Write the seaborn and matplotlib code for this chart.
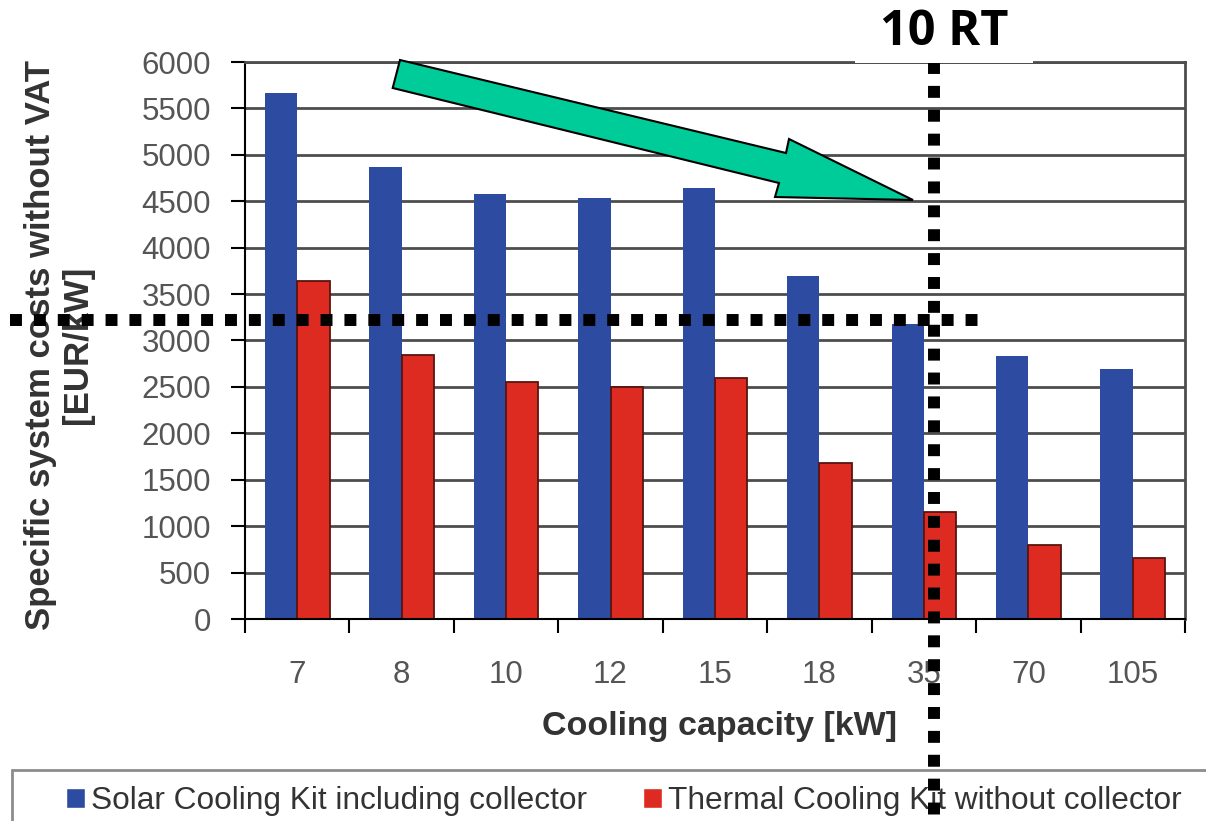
import numpy as np
import pandas as pd
import seaborn as sns
import matplotlib.pyplot as plt
from matplotlib.patches import Polygon, Rectangle

# Cooling capacity classes and specific system costs (EUR/kW, without VAT)
capacity_kw = ["7", "8", "10", "12", "15", "18", "35", "70", "105"]
solar_kit_cost = [5670, 4870, 4580, 4540, 4640, 3700, 3180, 2830, 2690]
thermal_kit_cost = [3640, 2840, 2550, 2500, 2600, 1680, 1150, 800, 660]
series_names = ["Solar Cooling Kit including collector",
                "Thermal Cooling Kit without collector"]
y_ticks = list(range(0, 6001, 500))

# Reference markers: 10 RT (~35 kW) and its cost level
reference_label = "10 RT"
reference_cost = 3220
reference_position = 6.1

W, H = 1206, 821
BLUE = "#2D4BA0"
RED = "#DD2B22"
GRID = "#4d4d4d"

sns.set_theme(style="ticks")
plt.rcParams["font.family"] = ["Liberation Sans", "DejaVu Sans"]

df = pd.DataFrame({
    "capacity": capacity_kw * 2,
    "cost": solar_kit_cost + thermal_kit_cost,
    "series": [series_names[0]] * len(capacity_kw) + [series_names[1]] * len(capacity_kw),
})

fig = plt.figure(figsize=(W / 100, H / 100), dpi=100)
ax = fig.add_axes([245 / W, 1 - 619 / H, 940 / W, 557 / H])

sns.barplot(data=df, x="capacity", y="cost", hue="series", order=capacity_kw,
            hue_order=series_names, palette=[BLUE, RED], width=0.62,
            saturation=1, ax=ax)
handles, labels = ax.get_legend_handles_labels()
ax.get_legend().remove()

for bar in ax.containers[0]:
    bar.set_edgecolor(BLUE)
    bar.set_linewidth(0)
for bar in ax.containers[1]:
    bar.set_edgecolor("#5a140f")
    bar.set_linewidth(1.3)

ax.set_xlim(-0.5, len(capacity_kw) - 0.5)
ax.set_ylim(0, 6000)
ax.set_yticks(y_ticks)
ax.set_xticks(range(len(capacity_kw)))
ax.set_xticklabels(capacity_kw)
ax.set_xticks(np.arange(-0.5, len(capacity_kw), 1), minor=True)

ax.yaxis.grid(True, color=GRID, linewidth=2)
ax.set_axisbelow(True)

for side in ["left", "bottom"]:
    ax.spines[side].set_color("black")
    ax.spines[side].set_linewidth(1.5)
for side in ["top", "right"]:
    ax.spines[side].set_visible(True)
    ax.spines[side].set_color(GRID)
    ax.spines[side].set_linewidth(2)

ax.tick_params(axis="y", length=10, width=1.5, color="black", pad=14.5,
               labelsize=22.5, labelcolor="#555555", left=True)
ax.tick_params(axis="x", which="major", length=0, pad=29.5,
               labelsize=22.5, labelcolor="#555555")
ax.tick_params(axis="x", which="minor", length=10, width=1.5, color="black",
               bottom=True)

ax.set_xlabel("Cooling capacity [kW]", fontsize=24.5, fontweight="bold",
              color="#333333")
ax.xaxis.set_label_coords(0.505, -0.166)
ax.set_ylabel("Specific system costs without VAT\n[EUR/kW]", fontsize=25,
              fontweight="bold", color="#333333", linespacing=1.15)
ax.yaxis.set_label_coords(-0.1610, 0.492)

# Dotted reference lines
dot_style = dict(color="black", linewidth=8.6, linestyle=(0, (1, 1)),
                 dash_capstyle="butt", clip_on=False, zorder=5)
ax.plot([-2.75, 6.59], [reference_cost, reference_cost], **dot_style)
ax.plot([reference_position, reference_position], [6000, -2200], **dot_style)

# Green arrow pointing to the 10 RT marker
arrow_px = [(400, 60), (786, 153), (789, 139), (913, 200),
            (775, 197), (779, 183), (392.7, 88)]
arrow = Polygon([(x / W, 1 - y / H) for x, y in arrow_px], closed=True,
                transform=fig.transFigure, facecolor="#00CC99",
                edgecolor="black", linewidth=1.5, zorder=6)
fig.patches.append(arrow)

# Label box for the 10 RT marker
fig.patches.append(Rectangle((855 / W, 1 - 63 / H), 178 / W, 63 / H,
                             transform=fig.transFigure, facecolor="white",
                             edgecolor="none", zorder=10))
fig.text(944 / W, 1 - 45 / H, reference_label, ha="center", va="baseline",
         fontsize=35, fontweight="bold", family=["Open Sans", "DejaVu Sans"],
         color="black", zorder=11)

# Legend strip along the bottom, kept underneath the dotted marker line
fig.patches.append(Rectangle((12 / W, -10 / H), 1210 / W, (821 - 770 + 10) / H,
                             transform=fig.transFigure, facecolor="white",
                             edgecolor="#8c8c8c", linewidth=2, zorder=-2))
leg = fig.legend(handles, labels, loc="center left",
                 bbox_to_anchor=(66 / W, 1 - 801 / H), ncol=2, frameon=False,
                 fontsize=22.8, handlelength=0.6, handleheight=0.6,
                 handletextpad=0.2, columnspacing=1.75, borderpad=0,
                 borderaxespad=0)
leg.set_zorder(-1)
for t in leg.get_texts():
    t.set_color("#333333")

fig.savefig("out.png", dpi=100)
